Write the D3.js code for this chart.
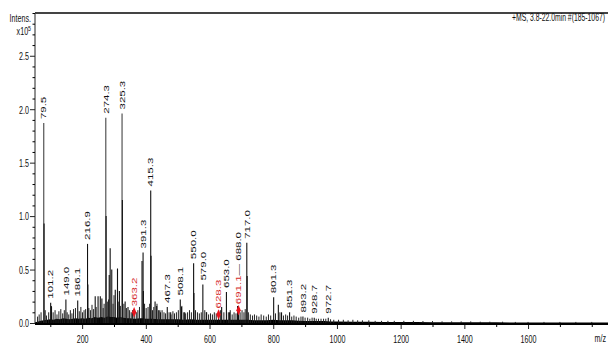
<!DOCTYPE html>
<html><head><meta charset="utf-8">
<script src="https://cdn.jsdelivr.net/npm/d3@7"></script>
<style>
html,body{margin:0;padding:0;background:#fff;}
svg{display:block;font-family:"Liberation Sans",Arial,sans-serif;}
</style></head>
<body><svg id="c" width="608" height="344"></svg>
<script>
// ---- data (m/z, intensity x10^5) ----
const peakMz  = [79.5,80.5,101.2,103.2,149.0,186.1,216.9,218.0,241,250,257,262,274.3,275.3,285,288,293,304,311,317,325.3,326.3,335,344,363.2,388,391.3,392.3,415.3,416.3,429,434,444,467.3,478,508.1,512,522,550.0,551.0,579.0,590,628.3,638,653.0,663,688.0,691.1,717.0,718.0,801.3,816,826,851.3,893.2,928.7,972.7];
const peakInt = [1.87,0.93,0.19,0.16,0.22,0.21,0.74,0.36,0.25,0.25,0.25,0.23,1.92,1.00,0.45,0.70,0.50,0.31,0.51,0.30,1.96,1.15,0.20,0.15,0.10,0.58,0.66,0.30,1.24,0.63,0.20,0.16,0.12,0.15,0.10,0.22,0.15,0.10,0.56,0.28,0.36,0.10,0.08,0.15,0.29,0.10,0.16,0.12,0.75,0.44,0.24,0.17,0.10,0.10,0.06,0.05,0.05];
const labeledMz = [79.5,101.2,149.0,186.1,216.9,274.3,325.3,391.3,415.3,467.3,508.1,550.0,579.0,653.0,717.0,801.3,851.3,893.2,928.7,972.7];
const markedMz  = [363.2,628.3,691.1];
const markedInt = [0.10,0.08,0.12];
const joinedLabel = {"691.1":"688.0"};
const minorMz  = [60,65,71,84,88,95,104,109,115,121,127,133,139,144,153,158,163,168,173,179,191,196,201,206,211,221,226,231,236,244,266,269,279,283,297,300,315,320,331,339,349,354,358,370,375,380,396,401,407,412,421,425,435,440,446,451,457,462,473,479,485,490,496,502,513,519,525,531,537,543,556,562,568,574,585,591,597,603,609,615,621,634,645,659,665,671,677,683,696,702,708,712,722,728,735,741,748,755,762,770,778,785,792,807,821,832,839,845,858,865,872,880,887,900,908,915,922,935,942,950,958,965,980,990,1005,1020,1035,1050,1065,1080,1100,1120,1140,1160,1180,1210,1240,1270,1300,1330,1360,1390,1420,1450,1480,1520,1560,1600,1650,1700,1750,1800];
const minorInt = [0.06,0.08,0.10,0.12,0.07,0.10,0.15,0.10,0.12,0.08,0.11,0.13,0.09,0.12,0.10,0.08,0.12,0.09,0.13,0.14,0.11,0.15,0.10,0.12,0.13,0.14,0.12,0.17,0.13,0.15,0.14,0.18,0.20,0.22,0.18,0.26,0.20,0.16,0.18,0.14,0.12,0.10,0.12,0.10,0.12,0.15,0.18,0.14,0.15,0.18,0.12,0.15,0.18,0.12,0.10,0.12,0.10,0.09,0.10,0.08,0.11,0.09,0.10,0.12,0.16,0.10,0.09,0.10,0.12,0.10,0.12,0.10,0.09,0.10,0.12,0.10,0.08,0.09,0.08,0.10,0.09,0.12,0.10,0.10,0.12,0.08,0.10,0.09,0.10,0.12,0.10,0.13,0.10,0.08,0.07,0.08,0.07,0.06,0.08,0.07,0.06,0.08,0.07,0.09,0.10,0.07,0.08,0.07,0.06,0.07,0.06,0.05,0.06,0.05,0.05,0.04,0.05,0.04,0.04,0.04,0.04,0.04,0.035,0.03,0.03,0.03,0.025,0.03,0.025,0.025,0.025,0.02,0.02,0.02,0.02,0.02,0.02,0.018,0.018,0.015,0.015,0.015,0.015,0.012,0.012,0.012,0.01,0.01,0.01,0.01,0.01,0.01];
const noiseMz  = [52,60,70,80,90,100,110,120,130,140,150,160,170,180,190,200,210,220,230,240,250,260,270,280,290,300,310,320,330,340,350,360,370,380,390,400,420,440,460,480,500,520,540,560,580,600,620,640,660,680,700,720,740,760,780,800,820,840,860,880,900,920,940,960,980,1000,1050,1100,1150,1200,1250,1300,1350,1400,1450,1500,1600,1700,1851];
const noiseInt = [0.006,0.012,0.02,0.025,0.03,0.035,0.03,0.04,0.035,0.045,0.04,0.035,0.04,0.045,0.04,0.045,0.04,0.05,0.045,0.055,0.05,0.055,0.05,0.06,0.055,0.055,0.05,0.055,0.05,0.045,0.045,0.04,0.04,0.045,0.045,0.04,0.04,0.035,0.035,0.035,0.035,0.03,0.035,0.03,0.03,0.03,0.03,0.03,0.03,0.03,0.03,0.03,0.025,0.025,0.025,0.03,0.025,0.025,0.025,0.02,0.018,0.018,0.018,0.018,0.015,0.015,0.012,0.012,0.01,0.009,0.009,0.008,0.008,0.006,0.006,0.006,0.005,0.005,0.005];
const yTickValues = [0,0.5,1.0,1.5,2.0,2.5];
const yTickLabels = ["0.0","0.5","1.0","1.5","2.0","2.5"];
const xTickValues = [200,400,600,800,1000,1200,1400,1600];
const xTickLabels = ["200","400","600","800","1000","1200","1400","1600"];
const titleText = "+MS, 3.8-22.0min #(185-1067)";

// ---- drawing ----
const svg = d3.select("#c");
const SX = 0.65; // horizontal squash of the original picture
const INK = "#111";
const x = d3.scaleLinear().domain([52,1851]).range([35,608]);
const y = d3.scaleLinear().domain([0,2.9]).range([323,13]);

// noise band
const area = d3.area().x((d,i)=>x(noiseMz[i])).y0(y(0)).y1((d,i)=>y(noiseInt[i]));
svg.append("path").datum(noiseMz).attr("d",area).attr("fill","#000");

// minor grass
svg.append("g").selectAll("line").data(minorMz).join("line")
  .attr("x1",d=>x(d)).attr("x2",d=>x(d))
  .attr("y1",y(0)).attr("y2",(d,i)=>y(minorInt[i]))
  .attr("stroke","#222").attr("stroke-width",1);

// main peaks
svg.append("g").selectAll("line").data(peakMz).join("line")
  .attr("x1",d=>x(d)).attr("x2",d=>x(d))
  .attr("y1",y(0)).attr("y2",(d,i)=>y(peakInt[i]))
  .attr("stroke",(d,i)=>peakInt[i]>1.3?"#444":"#111")
  .attr("stroke-width",1.1);

// axes
const yAxis = d3.axisLeft(y).tickValues(yTickValues).tickFormat((d,i)=>yTickLabels[i]).tickSize(5).tickSizeOuter(0);
const gy = svg.append("g").attr("transform","translate(35,0)").call(yAxis);
const yMinor = d3.range(0,2.9001,0.1).filter(v=>Math.abs(v*2-Math.round(v*2))>1e-6);
svg.append("g").attr("transform","translate(35,0)")
  .call(d3.axisLeft(y).tickValues(yMinor).tickFormat("").tickSize(2.5).tickSizeOuter(0))
  .call(g=>g.select(".domain").remove());
gy.select(".domain").attr("d","M0,13V324").attr("stroke","#222");
gy.selectAll(".tick line").attr("stroke","#222");
gy.selectAll(".tick text").attr("x",null).attr("dy","0.35em")
  .attr("transform",`translate(-6,0) scale(${SX},1)`)
  .attr("font-size",11).attr("fill",INK).attr("font-family","Liberation Sans, Arial, sans-serif");

const xAxis = d3.axisBottom(x).tickValues(xTickValues).tickFormat((d,i)=>xTickLabels[i]).tickSize(5).tickSizeOuter(0);
const gx = svg.append("g").attr("transform","translate(0,324)").call(xAxis);
gx.select(".domain").remove();
gx.selectAll(".tick line").attr("stroke","#222");
gx.selectAll(".tick text").attr("y",null).attr("dy",null)
  .attr("transform",`translate(0,19) scale(${SX},1)`)
  .attr("font-size",11).attr("fill",INK).attr("font-family","Liberation Sans, Arial, sans-serif");
const xMinor = d3.range(100,1900,100).filter(v=>v%200!==0 || v===1800);
svg.append("g").attr("transform","translate(0,324)")
  .call(d3.axisBottom(x).tickValues(xMinor).tickFormat("").tickSize(3).tickSizeOuter(0))
  .call(g=>g.select(".domain").remove());
// baseline
svg.append("line").attr("x1",35).attr("x2",608).attr("y1",324).attr("y2",324).attr("stroke","#000").attr("stroke-width",2);
// top frame
svg.append("line").attr("x1",35).attr("x2",608).attr("y1",13).attr("y2",13).attr("stroke","#444").attr("stroke-width",2);

// axis captions
function htext(tx,ty,str,size,anchor){
  return svg.append("text").attr("transform",`translate(${tx},${ty}) scale(${SX},1)`)
    .attr("text-anchor",anchor).attr("font-size",size).attr("fill",INK).text(str);
}
htext(31,22,"Intens.",11,"end");
const xt = htext(31,35,"x10",11,"end");
xt.append("tspan").attr("dy",-4).attr("font-size",8).text("5");
htext(606,342,"m/z",11,"end");
htext(605,21,titleText,10.5,"end");

// peak labels
const lab = svg.append("g").attr("font-size",11.5).attr("fill",INK);
labeledMz.forEach(m=>{
  const v = peakInt[peakMz.indexOf(m)];
  lab.append("text")
    .attr("transform",`translate(${x(m)},${y(v)-4}) scale(${SX},1) rotate(-90)`)
    .attr("dy","0.36em").text(m.toFixed(1));
});
// marked (red) peaks
const diamond = d3.symbol().type(d3.symbolDiamond).size(26);
markedMz.forEach((m,i)=>{
  const v = markedInt[i];
  svg.append("path").attr("d",diamond())
    .attr("transform",`translate(${x(m)},${y(v)}) scale(0.8,1.1)`).attr("fill","#e8141e");
  const t = lab.append("text")
    .attr("transform",`translate(${x(m)},${y(v)-6}) scale(${SX},1) rotate(-90)`)
    .attr("dy","0.36em");
  t.append("tspan").attr("fill","#d42a2a").text(m.toFixed(1));
  const j = joinedLabel[m.toFixed(1)];
  if(j) t.append("tspan").attr("fill",INK).text("\u2014 "+j);
});
</script></body></html>
